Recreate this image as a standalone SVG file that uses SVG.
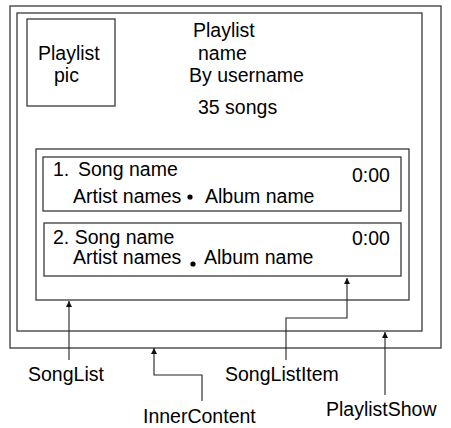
<svg xmlns="http://www.w3.org/2000/svg" width="451" height="428" viewBox="0 0 451 428">
<defs>
<style>
.box{fill:none;stroke:#3a3a3a;stroke-width:1.3}
.conn{fill:none;stroke:#222;stroke-width:1.1}
text{font-family:"Liberation Sans",Arial,Helvetica,sans-serif;font-size:19.5px;fill:#000}
</style>
<marker id="ah" viewBox="0 0 10 10" refX="10" refY="5" markerWidth="6" markerHeight="6" orient="auto" markerUnits="userSpaceOnUse">
<path d="M0,0 L10,5 L0,10 Z" fill="#111"/>
</marker>
</defs>
<rect width="451" height="428" fill="#fff"/>
<g id="PlaylistShow"><rect class="box" x="10" y="6" width="431" height="342"/></g>
<g id="InnerContent"><rect class="box" x="17" y="13" width="405" height="318"/></g>
<g id="PlaylistPic"><rect class="box" x="27" y="19" width="88" height="87"/>
<text x="38" y="60">Playlist</text><text x="54" y="82">pic</text></g>
<g id="PlaylistInfo">
<text x="193" y="37">Playlist</text>
<text x="198" y="60">name</text>
<text x="189" y="82">By username</text>
<text x="198" y="114">35 songs</text>
</g>
<g id="SongList"><rect class="box" x="36" y="149" width="373" height="151"/></g>
<g id="SongListItem1"><rect class="box" x="43" y="157" width="358" height="54"/>
<text y="176"><tspan x="53">1.</tspan><tspan x="78">Song name</tspan></text>
<text x="352" y="182">0:00</text>
<text x="73" y="203">Artist names</text>
<circle cx="190" cy="197" r="2.6" fill="#000"/>
<text x="205" y="203">Album name</text>
</g>
<g id="SongListItem2"><rect class="box" x="44" y="223" width="357" height="53"/>
<text x="53" y="244">2. Song name</text>
<text x="352" y="245">0:00</text>
<text x="73" y="264">Artist names</text>
<circle cx="193" cy="264" r="2.6" fill="#000"/>
<text x="204" y="264">Album name</text>
</g>
<g id="connectors">
<path class="conn" d="M69,360 V301" marker-end="url(#ah)"/>
<path class="conn" d="M202,401 V375 H154 V348" marker-end="url(#ah)"/>
<path class="conn" d="M286,360 V318 H347 V278" marker-end="url(#ah)"/>
<path class="conn" d="M385,395 V332" marker-end="url(#ah)"/>
</g>
<g id="labels">
<text x="28" y="381">SongList</text>
<text x="143" y="423">InnerContent</text>
<text x="225" y="381">SongListItem</text>
<text x="326" y="416">PlaylistShow</text>
</g>
</svg>
